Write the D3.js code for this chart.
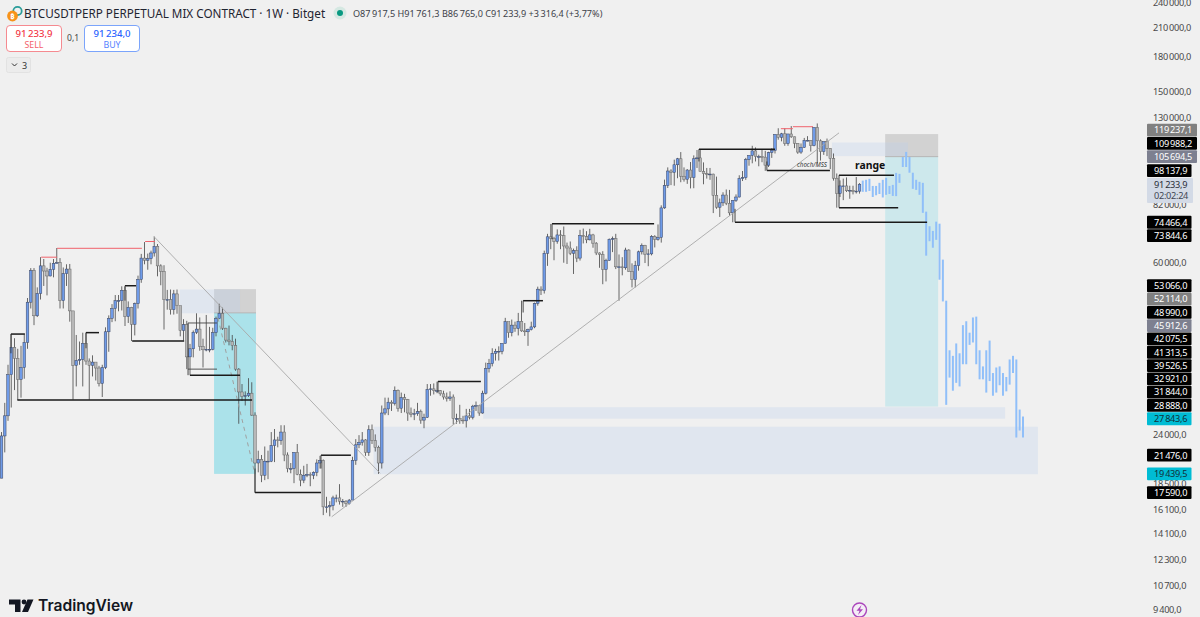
<!DOCTYPE html>
<html>
<head>
<meta charset="utf-8">
<script src="https://cdn.jsdelivr.net/npm/d3@7"></script>
<style>
  html, body { margin: 0; padding: 0; background: #f0f0f0; overflow: hidden; }
  svg { display: block; font-family: "Noto Sans", sans-serif; }
</style>
</head>
<body>
<svg id="chart_svg" width="1200" height="617"></svg>
<script>
// weekly candles, oldest first
const firstOpen = 19000;
const closes = [
  23800,26500,33000,38200,36000,32200,34300,39200,48600,57500,45200,50900,59000,57400,55900,57900,59800,60000,49000,56600,58000,46400,34700,35600,35800,39000,35500,34700,35300,34200,31500,34300,41500,44600,47000,49000,49000,51800,45000,47300,43200,48200,54900,61500,60800,61300,63200,65500,
  59000,57300,49300,49300,46700,50800,47700,41800,43100,36300,37900,41400,42100,38400,37700,37800,37800,41300,44500,45800,42300,39700,39400,38600,34000,30100,29400,29500,29900,26600,20600,21000,19300,20800,20800,22600,23300,23200,24300,21500,20000,20000,21800,19400,18800,19300,19400,19300,19600,20600,20900,16300,16300,16400,17100,17100,16800,16800,16600,
  16900,20900,22700,23000,23300,21800,24600,23200,22400,20600,26900,27500,28500,28300,30300,27600,29200,28900,26900,26700,26800,27100,25900,26300,30500,30600,30300,30300,29800,29300,29100,29300,26100,26100,25900,25800,26500,26300,27900,28000,26900,29900,34100,35000,37000,37400,37400,39000,43800,41300,43000,42200,
  43900,41700,41500,42000,42600,48300,52100,51700,63100,68900,68300,67200,69600,69300,65600,64900,63100,64000,61500,69300,69000,67800,69600,66600,63200,62700,57900,60800,68000,68200,58700,58700,58400,64200,57300,54800,59100,63600,65800,62800,62900,69000,68000,68700,80400,90600,97900,97200,101200,104500,95200,93700,98400,
  94500,104500,105000,97700,96500,96100,96300,86000,80700,82600,86100,82400,78300,83700,85200,94000,94500,104000,106400,109000,105700,105700,105400,101000,108000,109200,119000,117200,119400,113300,119300,117500,113500,108300,111100,115300,115300,112100,123500,115000,108600,114500,110500,104700,94200,86800,90400,90400,88100,88300,87800,87917,91233.9
];
const highs = [
  24300,28400,34800,41000,40100,37900,38500,40900,49700,58300,58300,52600,61800,61200,58400,60000,61200,64900,61500,58500,59500,59600,45800,40800,39400,41300,41300,36000,36600,35000,34600,34800,42500,45300,48100,50500,50500,52900,52800,48800,47400,48500,56000,62900,67000,63000,64000,69000,
  66300,59500,59200,51900,52000,51900,52000,47500,44400,44000,38900,41800,45800,44800,40000,45400,42600,42400,45000,48200,47200,42400,42900,40800,40000,34200,31400,30200,32400,31700,27000,22000,21500,22500,22000,24300,24700,23700,25200,25200,21800,20600,21800,22800,19900,20300,20500,19600,19700,21000,21400,21000,17200,16800,17300,17400,18400,17000,16900,
  17000,21300,23400,23900,24300,23400,25200,25300,24000,22600,28000,29200,29200,28800,31000,30500,30000,29800,29000,27700,27500,28400,27400,26800,31400,31400,31500,31800,30400,30300,30000,30200,29700,26800,28100,26500,27500,27500,28100,28600,28000,30300,35200,35900,38000,37900,38400,39000,44700,43400,44300,43800,
  45900,49000,43500,42200,43800,48500,52800,52900,64000,70000,73800,68900,71700,71400,72800,66800,67200,64700,65500,71500,72000,71000,71900,70000,67000,63400,63800,61300,68300,69000,70000,62700,61800,65000,64500,59800,60600,64000,66500,66000,64500,69500,69500,73600,81500,93500,99800,98800,104000,105000,108300,99800,98900,
  102700,106400,109500,109500,102500,99500,99500,96500,95000,84500,87400,88700,88500,83700,86400,95700,97900,105000,106400,112000,111000,106800,110000,109000,108500,110500,119000,123000,120000,123000,119300,124400,117600,113400,113400,116800,117900,115400,123500,126200,115900,114500,116400,110500,107500,96600,93100,94000,94600,90500,90500,94800,91761.3
];
const lows = [
  19000,21800,25800,27700,30400,28800,29200,32300,37900,47000,43000,44900,49300,53000,50400,55800,55500,59800,47000,47000,53000,43800,28888,31000,34800,31000,34800,28888,32700,32000,31000,29300,34000,37300,43700,43900,46300,46500,42800,43500,39500,40700,47000,53900,59500,57800,59500,62000,
  55800,53200,42000,46700,45500,45500,45700,40500,39600,34000,32900,36200,41000,37500,34300,37400,37200,37600,40500,44400,41900,39200,38600,37600,33700,25400,28700,28000,29300,26500,17590,19600,18600,18800,18900,20700,20700,22400,22700,20800,19600,19500,18500,19300,18200,18500,19100,18200,18900,19200,20000,15600,15800,15500,16000,16700,16500,16300,16300,
  16500,17000,20400,22300,22600,21400,21400,22800,21900,19439,20000,26600,26600,27200,28000,27100,26900,27000,25800,26300,25900,26500,25400,24800,26200,29500,29700,29900,29500,28900,28600,28700,25300,25400,25400,25400,24900,26000,26000,27200,26500,26800,29700,33400,34500,35600,35600,36800,39000,40200,40500,41500,
  40700,41500,40600,38500,41800,42300,47700,50500,50900,59000,64500,60800,66400,64500,60000,59600,62500,56500,60200,60700,66500,66600,67600,65000,62500,58400,53500,54300,60600,63500,58000,48990,56100,57800,57200,52600,52600,57500,62700,59900,58900,62400,65100,67500,66800,80000,89400,90800,90500,94200,92200,92500,91400,
  89200,89300,99500,97700,91200,94000,93400,78200,80000,76600,81200,81600,77100,74466,83000,85000,92800,93400,100700,102000,103000,100400,102600,98000,100000,105000,107500,115700,114700,112000,112000,116800,110600,107300,107300,110800,114700,108600,111700,102000,103500,106700,106000,98900,93000,80500,85200,83800,87500,84400,86400,86800,86765
];

// blue projected bars after the last candle
const projHighs = [93000,93400,93900,90400,90400,91900,93400,94400,90400,90900,96900,96400,105500,108400,105500,97000,93400,92400,91900,78800,72900,71100,74700,73900,61000,49000,37600,36500,39000,37000,43000,43900,41300,44800,45000,37600,34500,37600,39600,33300,34300,34500,33300,32600,35800,36500,35800,27400,26400];
const projLows = [87600,87600,88000,85200,86000,86600,85000,86200,86600,85700,85600,91900,100000,100000,97000,89000,88500,86200,78300,62300,67300,65000,67800,54800,48800,28100,32500,30300,31600,31000,34900,34900,38700,39200,34900,32200,32200,30000,31900,29500,30000,31200,29500,30200,31300,33300,23600,24500,23600];

// horizontal levels: start bar, end bar, price
const levelStart = [2.9,4.9,26,38,40.2,58,78,98.3,134.3,160.5,169.4,214.6,225.7,235.5,257.7,257.7];
const levelEnd = [7.2,77.1,30,41.4,56.2,73.4,98.3,107.5,147.5,166.6,200.8,238,284.8,254.9,274.6,275.9];
const levelPrice = [41000,28850,41313.5,53066,39526.5,32921,17590,21476,31844,48990,73844.6,109988.2,74466.4,98137.9,95700,80500];
const thinStart = [57.4,57.4];
const thinEnd = [66.3,66.3];
const thinPrice = [43500,34000];

// little uprights that tie a level to its swing: bar, from price, to price
const stemBar = [2.9,26,38,57.4,134.3,160.5,169.4,214.6,225.7,235.5,257.7,78,98.3];
const stemFrom = [41000,41313.5,53066,43500,31844,48990,73844.6,109988.2,74466.4,98137.9,95700,17590,21476];
const stemTo = [37000,38000,49000,32921,30000,46000,68000,103000,80000,103000,80500,20000,20000];

const redStart = [12.2,17.1,44.2,239.8,243.5];
const redEnd = [17.1,43.2,47.2,243.5,249.7];
const redPrice = [61800,64800,67200,122700,124000];

// boxes: bars and prices
const stopBox = [[65.4,78.3,52114,45912.6],[271.9,288.2,119237.1,105694.5]];
const targetBox = [[65.4,78.3,45912.6,19439.5,"#abe2ea"],[271.9,288.2,105694.5,27843.6,"#cde8ec"]];
const zoneBox = [[54.9,73.4,52000,45800],[255.5,278.9,114000,106000],[148.2,308.8,27750,26100],[114.5,318.9,25000,19400]];

const axisTicks = [240000,210000,180000,150000,130000,82000,60000,24000,18500,16100,14100,12300,10700,9400];
const tagPrices = [119237.1,109988.2,105694.5,98137.9,74466.4,73844.6,53066,52114,48990,45912.6,42075.5,41313.5,39526.5,32921,31844,28888,27843.6,21476,19439.5,17590];
const tagKinds = ["g","k","s","k","k","k","k","g","k","s","k","k","k","k","k","k","c","k","c","k"];
const lastPrice = 91233.9;

const svg = d3.select("#chart_svg");

const x = d3.scaleLinear().domain([0, 264]).range([1.5, 859.5]);
const y = d3.scaleLog().domain([9400, 240000]).range([610, 3]);

// price text like 91 233,9 with a thin gap
function fmt(v) {
  const s = v.toFixed(1).split(".");
  return s[0].replace(/\B(?=(\d{3})+$)/g, "\u2009") + "," + s[1];
}

const g_boxes = svg.append("g");

function box(d, fill) {
  g_boxes.append("rect")
    .attr("x", x(d[0]))
    .attr("y", y(d[2]))
    .attr("width", x(d[1]) - x(d[0]))
    .attr("height", y(d[3]) - y(d[2]))
    .attr("fill", fill);
}

targetBox.forEach(d => box(d, d[4]));
stopBox.forEach(d => box(d, "#d2d2d2"));
zoneBox.forEach(d => box(d, "rgba(190,208,240,0.3)"));
// grey edge under the stop box
stopBox.forEach(d => {
  g_boxes.append("line")
    .attr("x1", x(d[0])).attr("x2", x(d[1]))
    .attr("y1", y(d[3])).attr("y2", y(d[3]))
    .attr("stroke", "#b5b5b5").attr("stroke-width", 1);
});

/**
 * Candles
 */
const candles = closes.map((c, i) => ({
  i: i,
  open: i === 0 ? firstOpen : closes[i - 1],
  close: c,
  high: highs[i],
  low: lows[i]
}));

const g_candles = svg.append("g");

g_candles.selectAll(".wick").data(candles).enter()
  .append("line")
  .attr("class", "wick")
  .attr("x1", d => x(d.i)).attr("x2", d => x(d.i))
  .attr("y1", d => y(d.high)).attr("y2", d => y(d.low))
  .attr("stroke", "#444")
  .attr("stroke-width", 0.8);

g_candles.selectAll(".body").data(candles).enter()
  .append("rect")
  .attr("class", "body")
  .attr("x", d => x(d.i) - 1.3)
  .attr("width", 2.6)
  .attr("y", d => y(Math.max(d.open, d.close)))
  .attr("height", d => Math.max(0.8, Math.abs(y(d.open) - y(d.close))))
  .attr("fill", d => d.close >= d.open ? "#6f9be8" : "#b8b8b8")
  .attr("stroke", d => d.close >= d.open ? "#3a4460" : "#666")
  .attr("stroke-width", 0.5);

/**
 * Projected bars, they sit a little wider apart than the candles
 */
const projX = d3.scaleLinear().domain([0, projHighs.length - 1]).range([x(265), 1023]);

svg.append("g").selectAll("line").data(projHighs).enter()
  .append("line")
  .attr("x1", (d, i) => projX(i)).attr("x2", (d, i) => projX(i))
  .attr("y1", d => y(d))
  .attr("y2", (d, i) => y(projLows[i]))
  .attr("stroke", "#90bff9")
  .attr("stroke-width", 2);

/**
 * Trend lines
 */
const g_lines = svg.append("g");

function seg(b1, p1, b2, p2, color, w, dash) {
  g_lines.append("line")
    .attr("x1", x(b1)).attr("y1", y(p1))
    .attr("x2", x(b2)).attr("y2", y(p2))
    .attr("stroke", color)
    .attr("stroke-width", w)
    .attr("stroke-dasharray", dash || null);
}

seg(46.9, 69000, 116.5, 19500, "#a8a8a8", 0.9);
seg(101.6, 15460, 257.7, 120000, "#a8a8a8", 0.9);
seg(66.6, 44700, 78, 19400, "#a0a0a0", 1, "4 4");

levelPrice.forEach((p, i) => seg(levelStart[i], p, levelEnd[i], p, "#1a1a1a", 1.5));
thinPrice.forEach((p, i) => seg(thinStart[i], p, thinEnd[i], p, "#444", 0.9));
stemBar.forEach((b, i) => seg(b, stemFrom[i], b, stemTo[i], "#333", 0.9));
redPrice.forEach((p, i) => seg(redStart[i], p, redEnd[i], p, "#f0626c", 1));

g_lines.append("text")
  .attr("x", 855).attr("y", 169)
  .attr("font-size", 10.4).attr("font-weight", 700).attr("fill", "#111")
  .text("range");

g_lines.append("text")
  .attr("x", 797).attr("y", 167)
  .attr("font-size", 6.2).attr("font-style", "italic").attr("fill", "#333")
  .text("choch/MSS");

/**
 * Price axis and price tags
 */
const y_axis = d3.axisRight(y)
  .tickValues(axisTicks)
  .tickSize(0)
  .tickPadding(0)
  .tickFormat(fmt);

const g_axis = svg.append("g")
  .attr("transform", "translate(1153,0)")
  .call(y_axis);

g_axis.select(".domain").remove();
g_axis.selectAll("text")
  .attr("font-family", '"Noto Sans", sans-serif')
  .attr("font-size", 9.2)
  .attr("letter-spacing", -0.3)
  .attr("fill", "#4a4a4a");

// tags stack away from the 105 694,5 tag, 13.3 px a row
const rowH = 13.3;
const tagY = tagPrices.map(p => y(p));
const anchor = tagPrices.indexOf(105694.5);
for (let i = anchor - 1; i >= 0; i--) tagY[i] = Math.min(tagY[i], tagY[i + 1] - rowH);
for (let i = anchor + 1; i < tagY.length; i++) tagY[i] = Math.max(tagY[i], tagY[i - 1] + rowH);

const tagFill = { k: "#000000", g: "#808080", s: "#7d8090", c: "#00bcd4" };
const tagText = { k: "#ffffff", g: "#ffffff", s: "#ffffff", c: "#12303a" };

// last price box goes under the tags
const lastY = y(lastPrice);
svg.append("rect")
  .attr("x", 1147).attr("y", lastY - 6.3)
  .attr("width", 46).attr("height", 25)
  .attr("rx", 1)
  .attr("fill", "#d3dae6");
svg.append("text")
  .attr("x", 1154).attr("y", lastY + 3.3)
  .attr("font-size", 9.2).attr("letter-spacing", -0.3).attr("fill", "#2a2e39")
  .text(fmt(lastPrice));
svg.append("text")
  .attr("x", 1154).attr("y", lastY + 15)
  .attr("font-size", 9.2).attr("letter-spacing", -0.3).attr("fill", "#3f4654")
  .text("02:02:24");

const tags = svg.append("g").selectAll("g").data(tagPrices).enter()
  .append("g")
  .attr("transform", (d, i) => "translate(1147," + tagY[i] + ")");

tags.append("rect")
  .attr("y", -6.4)
  .attr("height", 12.8)
  .attr("width", d => d >= 100000 ? 50 : 44.5)
  .attr("rx", 1)
  .attr("fill", (d, i) => tagFill[tagKinds[i]]);

tags.append("text")
  .attr("x", 7)
  .attr("y", 3.3)
  .attr("font-size", 9.2)
  .attr("letter-spacing", -0.3)
  .attr("fill", (d, i) => tagText[tagKinds[i]])
  .text(d => fmt(d));

/**
 * Header
 */
const g_head = svg.append("g");

g_head.append("circle").attr("cx", 17.5).attr("cy", 11).attr("r", 4.2)
  .attr("fill", "none").attr("stroke", "#2a9d9a").attr("stroke-width", 1.8);
g_head.append("circle").attr("cx", 12.5).attr("cy", 16).attr("r", 5.4).attr("fill", "#f7931a");
g_head.append("text").attr("x", 12.5).attr("y", 18.8).attr("text-anchor", "middle")
  .attr("font-size", 7.5).attr("font-weight", 700).attr("fill", "#fff").text("\u20bf");

g_head.append("text")
  .attr("x", 24).attr("y", 18)
  .attr("font-size", 11.7).attr("fill", "#1f2430")
  .text("BTCUSDTPERP PERPETUAL MIX CONTRACT \u00b7 1W \u00b7 Bitget");

g_head.append("circle").attr("cx", 340).attr("cy", 13).attr("r", 6.5).attr("fill", "#d5e8e2");
g_head.append("circle").attr("cx", 340).attr("cy", 13).attr("r", 3).attr("fill", "#089981");

g_head.append("text")
  .attr("x", 353).attr("y", 17)
  .attr("font-size", 9.1).attr("fill", "#3c4048")
  .text("O87\u2009917,5 H91\u2009761,3 B86\u2009765,0 C91\u2009233,9 +3\u2009316,4 (+3,77%)");

function tradeBox(bx, stroke, color, price, label) {
  g_head.append("rect")
    .attr("x", bx).attr("y", 25.5).attr("width", 55).attr("height", 26).attr("rx", 3.5)
    .attr("fill", "#ffffff").attr("stroke", stroke).attr("stroke-width", 1);
  g_head.append("text").attr("x", bx + 27.5).attr("y", 36.5).attr("text-anchor", "middle")
    .attr("font-size", 9.6).attr("font-weight", 500).attr("fill", color).text(price);
  g_head.append("text").attr("x", bx + 27.5).attr("y", 47.5).attr("text-anchor", "middle")
    .attr("font-size", 8.8).attr("fill", color).attr("opacity", 0.8).text(label);
}
tradeBox(6.5, "#f58a90", "#f23645", "91\u2009233,9", "SELL");
tradeBox(84.5, "#7ba4fb", "#2962ff", "91\u2009234,0", "BUY");

g_head.append("text").attr("x", 67).attr("y", 41)
  .attr("font-size", 8.6).attr("fill", "#444").text("0,1");

g_head.append("rect")
  .attr("x", 6.5).attr("y", 57.5).attr("width", 24).attr("height", 15).attr("rx", 2)
  .attr("fill", "#ececec").attr("stroke", "#e2e2e2");
g_head.append("path").attr("d", "M12 63.5 l2.5 2.5 l2.5 -2.5")
  .attr("fill", "none").attr("stroke", "#333").attr("stroke-width", 1);
g_head.append("text").attr("x", 22).attr("y", 68.5)
  .attr("font-size", 9).attr("fill", "#333").text("3");

/**
 * Footer, logo and the bolt button
 */
const g_foot = svg.append("g").attr("fill", "#131722");

g_foot.append("path").attr("d", "M9 599.5h11.5v12.5h-5.5v-7.5h-6z");
g_foot.append("circle").attr("cx", 24).attr("cy", 602).attr("r", 2.4);
g_foot.append("path").attr("d", "M27.5 599.5h6l-5.5 12.5h-6z");
g_foot.append("text")
  .attr("x", 38).attr("y", 610.5)
  .attr("font-family", "Inter, sans-serif")
  .attr("font-size", 15.6).attr("font-weight", 600)
  .text("TradingView");

svg.append("circle").attr("cx", 859.5).attr("cy", 610).attr("r", 7)
  .attr("fill", "#f4eef6").attr("stroke", "#ab47bc").attr("stroke-width", 1.4);
svg.append("path").attr("d", "M861.5 605l-5 5.8h3l-1.5 4.2l5-5.8h-3z").attr("fill", "#ab47bc");
</script>
</body>
</html>
